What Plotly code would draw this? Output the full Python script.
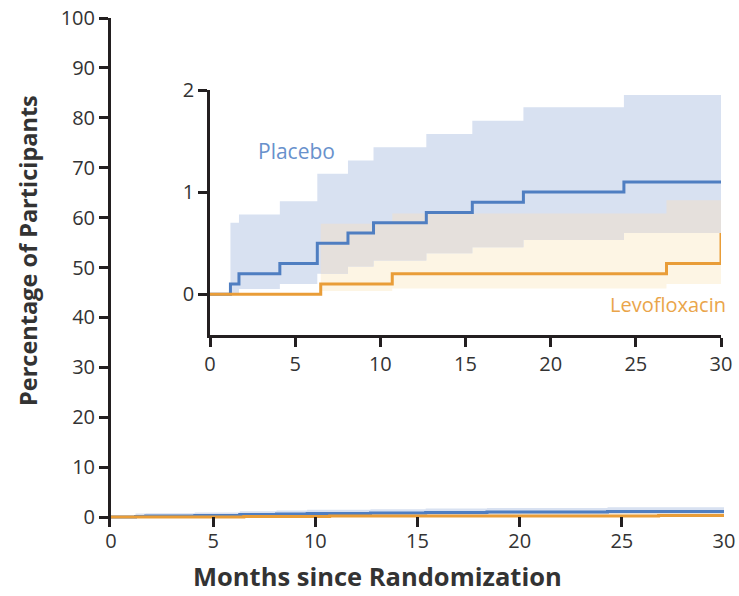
import plotly.graph_objects as go

# Cumulative incidence (%) by months since randomization
placebo_t = [0, 1.2, 1.7, 4.1, 6.3, 8.1, 9.6, 12.7, 15.4, 18.4, 24.3, 30]
placebo_est = [0, 0.1, 0.2, 0.3, 0.5, 0.6, 0.7, 0.8, 0.9, 1.0, 1.1, 1.1]

placebo_ci_t = [1.2, 1.7, 4.1, 6.3, 8.1, 9.6, 12.7, 15.4, 18.4, 24.3, 30]
placebo_upper = [0.70, 0.78, 0.91, 1.18, 1.31, 1.44, 1.57, 1.70, 1.83, 1.95, 1.95]
placebo_lower = [0.0, 0.05, 0.10, 0.20, 0.27, 0.33, 0.40, 0.46, 0.53, 0.60, 0.60]

levo_t = [0, 6.5, 10.7, 26.8, 30]
levo_est = [0, 0.1, 0.2, 0.3, 0.6]

levo_ci_t = [6.5, 10.7, 26.8, 30]
levo_upper = [0.69, 0.79, 0.92, 0.92]
levo_lower = [0.03, 0.055, 0.10, 0.10]

x_ticks = [0, 5, 10, 15, 20, 25, 30]
main_y_ticks = [0, 10, 20, 30, 40, 50, 60, 70, 80, 90, 100]
inset_y_ticks = [0, 1, 2]

BLUE = "#4f7ec1"
ORANGE = "#e99d38"
BLUE_BAND = "#d8e1f1"
BEIGE_BAND = "#fdf5e4"
GRAY_BAND = "#e5e0dc"
AXIS = "#231f20"
TEXT = "#333333"
FONT = "Open Sans"


def step_value(ts, vs, t):
    """Value of a right-continuous step function at time t."""
    val = None
    for ti, vi in zip(ts, vs):
        if ti <= t:
            val = vi
    return val


# Region where both confidence bands overlap
ov_t = sorted({t for t in placebo_ci_t + levo_ci_t if t >= levo_ci_t[0]})
ov_low = [max(step_value(placebo_ci_t, placebo_lower, t),
              step_value(levo_ci_t, levo_lower, t)) for t in ov_t]
ov_up = [min(step_value(placebo_ci_t, placebo_upper, t),
             step_value(levo_ci_t, levo_upper, t)) for t in ov_t]

fig = go.Figure()


def add_band(ts, lo, hi, color, xa, ya):
    fig.add_trace(go.Scatter(x=ts, y=lo, mode="lines", line=dict(width=0, shape="hv", color=color),
                             xaxis=xa, yaxis=ya, showlegend=False, hoverinfo="skip"))
    fig.add_trace(go.Scatter(x=ts, y=hi, mode="lines", line=dict(width=0, shape="hv", color=color),
                             fill="tonexty", fillcolor=color,
                             xaxis=xa, yaxis=ya, showlegend=False, hoverinfo="skip"))


for xa, ya in (("x", "y"), ("x2", "y2")):
    add_band(levo_ci_t, levo_lower, levo_upper, BEIGE_BAND, xa, ya)
    add_band(placebo_ci_t, placebo_lower, placebo_upper, BLUE_BAND, xa, ya)
    add_band(ov_t, ov_low, ov_up, GRAY_BAND, xa, ya)
    fig.add_trace(go.Scatter(x=placebo_t, y=placebo_est, mode="lines",
                             line=dict(color=BLUE, width=3, shape="hv"),
                             xaxis=xa, yaxis=ya, showlegend=False, name="Placebo"))
    fig.add_trace(go.Scatter(x=levo_t, y=levo_est, mode="lines",
                             line=dict(color=ORANGE, width=3, shape="hv"),
                             xaxis=xa, yaxis=ya, showlegend=False, name="Levofloxacin"))

W, H = 739, 596
tick_font = dict(family=FONT, size=20, color=TEXT)
common = dict(showgrid=False, zeroline=False, automargin=False, tickcolor=AXIS,
              tickwidth=2.5, tickfont=tick_font)

fig.update_layout(
    width=W, height=H,
    margin=dict(l=0, r=0, t=0, b=0),
    paper_bgcolor="white", plot_bgcolor="rgba(0,0,0,0)",
    xaxis=dict(domain=[111 / W, 724 / W], range=[0, 30], tickvals=x_ticks,
               showline=False, ticks="inside", ticklen=10, anchor="y", **common),
    yaxis=dict(domain=[1 - 527 / H, 1 - 18 / H], range=[-2, 100], tickvals=main_y_ticks,
               showline=True, linewidth=3, linecolor=AXIS,
               ticks="outside", ticklen=9, anchor="x", **common),
    xaxis2=dict(domain=[210 / W, 721 / W], range=[0, 30], tickvals=x_ticks,
                showline=True, linewidth=2.5, linecolor=AXIS,
                ticks="outside", ticklen=9, anchor="y2", **common),
    yaxis2=dict(domain=[1 - 335 / H, 1 - 90 / H], range=[-0.4, 2], tickvals=inset_y_ticks,
                showline=True, linewidth=2.5, linecolor=AXIS,
                ticks="outside", ticklen=9, anchor="x2", **common),
)

fig.add_annotation(text="Percentage of Participants", textangle=-90,
                   x=28 / W, y=1 - 251 / H, xref="paper", yref="paper",
                   xanchor="center", yanchor="middle",
                   showarrow=False, font=dict(family=FONT, size=23.5, color=TEXT, weight="bold"))
fig.add_annotation(text="Months since Randomization",
                   x=377 / W, y=0, xref="paper", yref="paper",
                   xanchor="center", yanchor="bottom", yshift=1,
                   showarrow=False, font=dict(family=FONT, size=25.5, color=TEXT, weight="bold"))
fig.add_annotation(text="Placebo", x=2.7, y=1.4, xref="x2", yref="y2",
                   xanchor="left", showarrow=False,
                   font=dict(family=FONT, size=21, color="#6891cc"))
fig.add_annotation(text="Levofloxacin", x=30, y=-0.1, xref="x2", yref="y2",
                   xanchor="right", xshift=7, showarrow=False,
                   font=dict(family=FONT, size=20, color="#eaa54a"))

fig.write_html("out.html")
